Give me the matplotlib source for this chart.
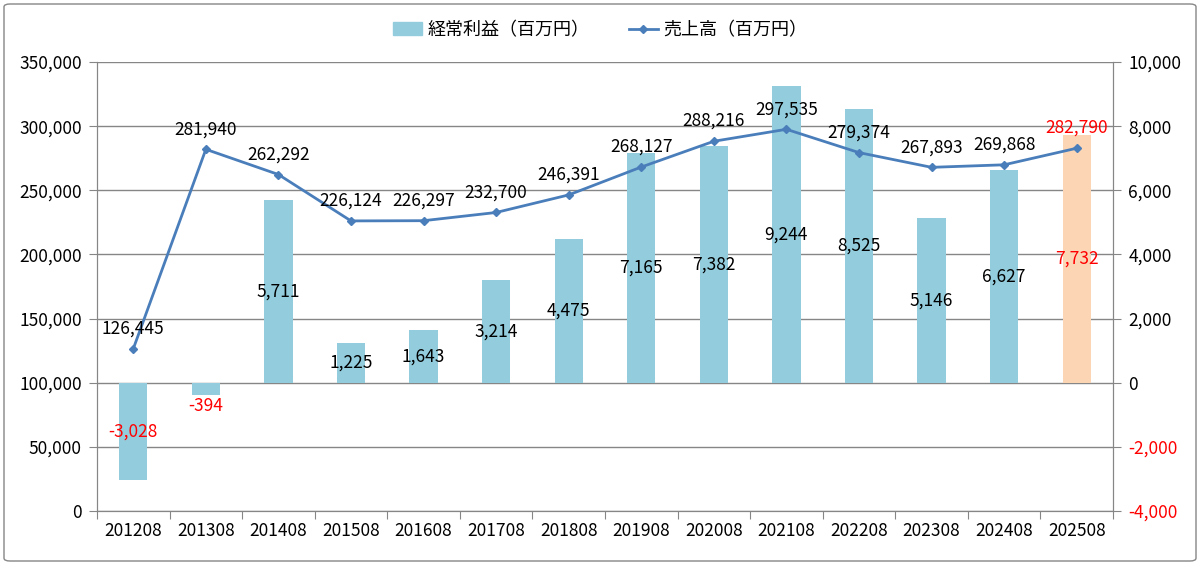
import matplotlib.pyplot as plt
from matplotlib.lines import Line2D
from matplotlib.patches import Patch, FancyBboxPatch
from matplotlib.ticker import FuncFormatter

plt.rcParams['font.family'] = ['Noto Sans CJK JP', 'DejaVu Sans']

# data
periods = ['201208', '201308', '201408', '201508', '201608', '201708', '201808',
           '201908', '202008', '202108', '202208', '202308', '202408', '202508']
sales = [126445, 281940, 262292, 226124, 226297, 232700, 246391,
         268127, 288216, 297535, 279374, 267893, 269868, 282790]
profit = [-3028, -394, 5711, 1225, 1643, 3214, 4475,
          7165, 7382, 9244, 8525, 5146, 6627, 7732]

bar_color = '#93CDDD'
last_color = '#FCD5B5'
line_color = '#4A7EBB'
grid_color = '#868686'
fs = 12.5

fig = plt.figure(figsize=(12, 5.65), dpi=100)
fig.patches.append(FancyBboxPatch((4 / 1200, 4 / 565), 1192 / 1200, 557 / 565,
                                  boxstyle='round,pad=0,rounding_size=0.005',
                                  transform=fig.transFigure, fill=False,
                                  edgecolor=grid_color, linewidth=1))

axb = fig.add_axes([97 / 1200, 1 - 511 / 565, 1016 / 1200, 449 / 565])
axl = axb.twinx()

x = list(range(len(periods)))
colors = [bar_color] * (len(periods) - 1) + [last_color]
axb.bar(x, profit, width=0.39, color=colors, zorder=2)
axb.set_ylim(-4000, 10000)
axb.set_yticks(range(-4000, 10001, 2000))
axb.yaxis.tick_right()
axb.yaxis.set_major_formatter(FuncFormatter(lambda v, p: f'{int(v):,}'))
axb.grid(axis='y', color=grid_color, linewidth=1, zorder=0)
axb.set_axisbelow(True)

axl.plot(x, sales, color=line_color, linewidth=2, marker='D', markersize=4.5, zorder=3)
axl.set_ylim(0, 350000)
axl.set_yticks(range(0, 350001, 50000))
axl.yaxis.tick_left()
axl.yaxis.set_major_formatter(FuncFormatter(lambda v, p: f'{int(v):,}'))

axb.set_xlim(-0.5, len(periods) - 0.5)
axb.set_xticks([i - 0.5 for i in range(len(periods) + 1)])
axb.set_xticklabels([])
axb.set_xticks(x, minor=True)
axb.set_xticklabels(periods, minor=True)
axb.tick_params(axis='x', which='major', length=6, color=grid_color)
axb.tick_params(axis='x', which='minor', length=0, labelsize=fs, pad=8)

for a in (axb, axl):
    a.spines['top'].set_visible(False)
    for s in ('left', 'right', 'bottom'):
        a.spines[s].set_color(grid_color)
    a.tick_params(axis='y', length=6, color=grid_color, labelsize=fs, pad=5)

fig.canvas.draw()
for lab, v in zip(axb.get_yticklabels(), axb.get_yticks()):
    if v < 0:
        lab.set_color('red')

# data labels (short bars get the label just past the bar end)
last = len(periods) - 1
for i, v in enumerate(profit):
    c = 'red' if (v < 0 or i == last) else 'black'
    if abs(v) < 600:
        axb.annotate(f'{v:,}', (i, v), xytext=(0, -1 if v < 0 else 1),
                     textcoords='offset points', ha='center',
                     va='top' if v < 0 else 'bottom', fontsize=fs, color=c)
    else:
        axb.text(i, v / 2, f'{v:,}', ha='center', va='center', fontsize=fs, color=c, zorder=4)
for i, v in enumerate(sales):
    c = 'red' if i == last else 'black'
    axl.annotate(f'{v:,}', (i, v), xytext=(0, 14.5), textcoords='offset points',
                 ha='center', va='center', fontsize=fs, color=c)

handles = [Patch(color=bar_color),
           Line2D([], [], color=line_color, linewidth=2, marker='D', markersize=4)]
fig.legend(handles, ['経常利益（百万円）', '売上高（百万円）'], loc='center',
           bbox_to_anchor=(0.5, 1 - 30 / 565), ncol=2, frameon=False,
           fontsize=13, handlelength=1.6, columnspacing=2.2, handletextpad=0.3)

fig.savefig('out.png', dpi=100)
